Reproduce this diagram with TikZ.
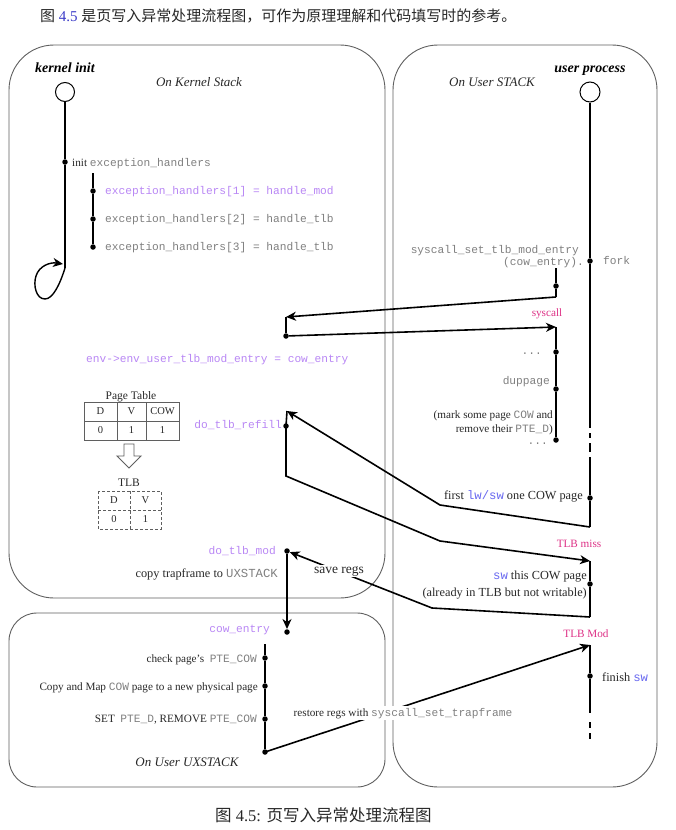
\documentclass[tikz,border=0pt]{standalone}
\usepackage{fontspec}
\setmainfont{Liberation Serif}
\setmonofont{Liberation Mono}
\newfontfamily\cjk{Noto Sans CJK SC}
\usetikzlibrary{arrows.meta}
\definecolor{pur}{RGB}{185,135,245}
\definecolor{mag}{RGB}{222,50,135}
\definecolor{blu}{RGB}{105,105,240}
\definecolor{grayC}{RGB}{128,128,128}
\definecolor{txt}{RGB}{40,40,40}
\definecolor{boxC}{RGB}{95,95,95}
\definecolor{capblue}{RGB}{60,60,200}
\newcommand{\cmg}[1]{\textcolor{grayC}{\texttt{#1}}}
\newcommand{\cmp}[1]{\textcolor{pur}{\texttt{#1}}}
\newcommand{\cmb}[1]{\textcolor{blu}{\texttt{#1}}}
\begin{document}
\begin{tikzpicture}[x=1pt,y=-1pt,
  every node/.style={inner sep=0pt, font=\fontsize{11.2}{13.4}\selectfont, text=txt},
  big/.style={font=\fontsize{12.3}{14}\selectfont},
  flow/.style={line width=1.6pt, draw=black},
  arr/.style={flow, -{Stealth[length=10pt,width=9pt,inset=3pt]}},
  dot/.style={circle, fill=black, minimum size=5.5pt, inner sep=0pt},
  startc/.style={circle, draw=black, line width=1pt, fill=white, minimum size=19pt, inner sep=0pt},
  frame/.style={draw=boxC, line width=0.9pt},
  title/.style={font=\fontsize{14}{16}\selectfont\bfseries\itshape, text=black},
  region/.style={font=\fontsize{13}{15}\selectfont\itshape},
  lab/.style={font=\fontsize{11.2}{13.4}\selectfont, text=mag},
  cell/.style={font=\fontsize{10.5}{12}\selectfont},
  grid/.style={draw=boxC, line width=0.9pt}
]
\useasboundingbox (0,0) rectangle (676,830);
\fill[white] (0,0) rectangle (676,830);

% captions
\node[anchor=base west, font=\fontsize{15}{17}\selectfont] (cap1) at (40,21)
  {{\cjk 图} \textcolor{capblue}{4.5} {\cjk 是页写入异常处理流程图，可作为原理理解和代码填写时的参考。}};
\node[anchor=base west, font=\fontsize{16.5}{18}\selectfont] (cap2) at (215,821)
  {{\cjk 图} 4.5: {\cjk 页写入异常处理流程图}};

% frames
\draw[frame, rounded corners=45pt] (9,45) rectangle (385,598);
\draw[frame, rounded corners=45pt] (393,45) rectangle (657,787);
\draw[frame, rounded corners=28pt] (9,613) rectangle (385,787);

% titles
\node[title, anchor=base] (tki) at (65,72) {kernel init};
\node[region, anchor=base] (tks) at (199,86) {On Kernel Stack};
\node[region, anchor=base] (tus) at (492,86) {On User STACK};
\node[title, anchor=base] (tup) at (590,72) {user process};
\node[region, anchor=base] (tux) at (187,766) {On User UXSTACK};

% kernel init
\node[startc] (kc) at (65,92) {};
\node[dot] (k1) at (65,162) {};
\coordinate (kend) at (65,268);
\draw[flow] (kc) -- (k1) -- (kend);
\draw[arr, line width=1.4pt] (kend) .. controls (60,284) and (53,299) .. (45,299)
  .. controls (36,299) and (33,285) .. (36,276)
  .. controls (39,266) and (50,262) .. (63,264);
\node[anchor=base west] (lk1) at (72,166) {init \cmg{exception\_handlers}};
\coordinate (h0) at (93,173);
\node[dot] (h1) at (93,191) {};
\node[dot] (h2) at (93,219) {};
\node[dot] (h3) at (93,247) {};
\draw[flow] (h0) -- (h1) -- (h2) -- (h3);
\node[anchor=base west] (lh1) at (105,194.5) {\cmp{exception\_handlers[1] = handle\_mod}};
\node[anchor=base west] (lh2) at (105,222.5) {\cmg{exception\_handlers[2] = handle\_tlb}};
\node[anchor=base west] (lh3) at (105,250.5) {\cmg{exception\_handlers[3] = handle\_tlb}};

% user process
\node[startc, minimum size=20pt] (uc) at (590,92) {};
\node[dot] (fk) at (590,261) {};
\coordinate (ud1) at (590,428);
\coordinate (ud2) at (590,457);
\node[dot] (ufirst) at (590,498) {};
\coordinate (u1) at (590,527);
\draw[flow] (uc) -- (fk) -- (ud1);
\draw[flow, dash pattern={on 0pt off 5pt on 5pt off 5pt on 9pt off 5pt}] (ud1) -- (ud2);
\draw[flow] (ud2) -- (ufirst) -- (u1);
\node[anchor=base west] (lfk) at (603,264) {\cmg{fork}};

% syscall_set_tlb_mod_entry
\coordinate (s0) at (556,268);
\node[dot] (sd) at (556,286) {};
\coordinate (s1) at (556,297);
\draw[flow] (s0) -- (sd) -- (s1);
\node[anchor=base east] (ls1) at (579,253) {\cmg{syscall\_set\_tlb\_mod\_entry}};
\node[anchor=base east] (ls2) at (584,265) {\cmg{(cow\_entry).}};
\coordinate (ka) at (286,317);
\node[dot] (kb) at (286,336) {};
\coordinate (sa) at (556,327);
\draw[arr] (s1) -- (ka);
\draw[flow] (ka) -- (kb);
\draw[arr] (kb) -- (sa);
\node[lab, anchor=base] (lsys) at (547,316) {syscall};
\node[dot] (sd1) at (556,352) {};
\node[dot] (sd2) at (556,389) {};
\node[dot] (sd3) at (556,440) {};
\draw[flow] (sa) -- (sd1) -- (sd2) -- (sd3);
\node[anchor=base east] (ldots1) at (542,354) {\cmg{...}};
\node[anchor=base east] (ldup) at (550,384) {\cmg{duppage}};
\node[anchor=base east] (lmark1) at (553,418) {(mark some page \cmg{COW} and};
\node[anchor=base east] (lmark2) at (553,432) {remove their \cmg{PTE\_D})};
\node[anchor=base east] (ldots2) at (548,444) {\cmg{...}};

% env line
\node[anchor=base west] (lenv) at (86,362) {\cmp{env->env\_user\_tlb\_mod\_entry = cow\_entry}};

% page table
\node[anchor=base, font=\fontsize{11.5}{13}\selectfont] (lpt) at (131,399) {Page Table};
\draw[grid] (84,402) rectangle (179,440);
\draw[grid] (84,421) -- (179,421);
\draw[grid] (117,402) -- (117,440);
\draw[grid] (146,402) -- (146,440);
\node[cell] (pD) at (100.5,411.5) {D};
\node[cell] (pV) at (131.5,411.5) {V};
\node[cell] (pC) at (162.5,411.5) {COW};
\node[cell] (p0) at (100.5,430.5) {0};
\node[cell] (p1) at (131.5,430.5) {1};
\node[cell] (p2) at (162.5,430.5) {1};
\draw[grid, line join=miter] (124,444) -- (134,444) -- (134,456) -- (141,456) -- (129,468) -- (117,456) -- (124,456) -- cycle;
\node[anchor=base, font=\fontsize{11.5}{13}\selectfont] (ltlb) at (129,486) {TLB};
\draw[grid, dash pattern=on 3pt off 2pt] (98,491) rectangle (161,529);
\draw[grid, dash pattern=on 3pt off 2pt] (98,510) -- (161,510);
\draw[grid, dash pattern=on 3pt off 2pt] (130,491) -- (130,529);
\node[cell] (tD) at (114,500.5) {D};
\node[cell] (tV) at (145.5,500.5) {V};
\node[cell] (t0) at (114,519.5) {0};
\node[cell] (t1) at (145.5,519.5) {1};

% tlb refill
\coordinate (rt) at (287,411);
\node[dot] (rd) at (286,426) {};
\coordinate (rb) at (286,476);
\coordinate (m1) at (440,505);
\coordinate (m2) at (440,541);
\coordinate (tm) at (590,561);
\draw[arr] (u1) -- (m1) -- (rt);
\draw[arr] (rt) -- (rd.center) -- (rb) -- (m2) -- (tm);
\node[anchor=base east] (lrefill) at (282,428) {\cmp{do\_tlb\_refill}};
\node[big, anchor=base east] (lfirst) at (583,499) {first \cmb{lw/sw} one COW page};
\node[lab, anchor=base] (ltm) at (579,547) {TLB miss};

% tlb mod
\node[dot] (usw) at (590,584) {};
\coordinate (u2) at (590,617);
\draw[flow] (tm) -- (usw) -- (u2);
\node[big, anchor=base east] (lsw1) at (587,579) {\cmb{sw} this COW page};
\node[big, anchor=base east] (lsw2) at (587,596) {(already in TLB but not writable)};
\coordinate (m3) at (432,608);
\node[dot] (md) at (287,551) {};
\draw[arr] (u2) -- (m3) -- (md);
\node[fill=white, inner sep=1.5pt, font=\fontsize{13.5}{15}\selectfont] (lsave) at (339,571) {save regs};
\node[anchor=base east] (lmod) at (276,554) {\cmp{do\_tlb\_mod}};
\node[big, anchor=base east] (lcopy) at (278,577) {copy trapframe to \cmg{UXSTACK}};
\node[dot] (ced) at (287,632) {};
\draw[arr] (md) -- (ced);
\node[anchor=base east] (lce) at (270,632) {\cmp{cow\_entry}};

% UXSTACK
\coordinate (x0) at (265,644);
\node[dot] (x1) at (265,658) {};
\node[dot] (x2) at (265,686) {};
\node[dot] (x3) at (265,719) {};
\node[dot] (x4) at (265,752) {};
\draw[flow] (x0) -- (x1) -- (x2) -- (x3) -- (x4);
\node[anchor=base east] (lx1) at (257,662) {check page's\ \ \cmg{PTE\_COW}};
\node[anchor=base east] (lx2) at (258,690) {Copy and Map \cmg{COW} page to a new physical page};
\node[anchor=base east] (lx3) at (257,722) {SET\ \ \cmg{PTE\_D}, REMOVE \cmg{PTE\_COW}};
\coordinate (tmod) at (590,645);
\draw[arr] (x4.center) -- (tmod);
\node[fill=white, anchor=base, inner sep=1.5pt] (lrest) at (403,716) {restore regs with \cmg{syscall\_set\_trapframe}};
\node[lab, anchor=base] (ltmod) at (586,637) {TLB Mod};
\node[dot] (ufin) at (590,676) {};
\coordinate (u3) at (590,713);
\coordinate (u4) at (590,740);
\draw[flow] (tmod) -- (ufin) -- (u3);
\draw[flow, dash pattern={on 0pt off 9pt on 6pt off 5pt on 6pt off 20pt}] (u3) -- (u4);
\node[big, anchor=base west] (lfin) at (602,681) {finish \cmb{sw}};
\end{tikzpicture}
\end{document}
